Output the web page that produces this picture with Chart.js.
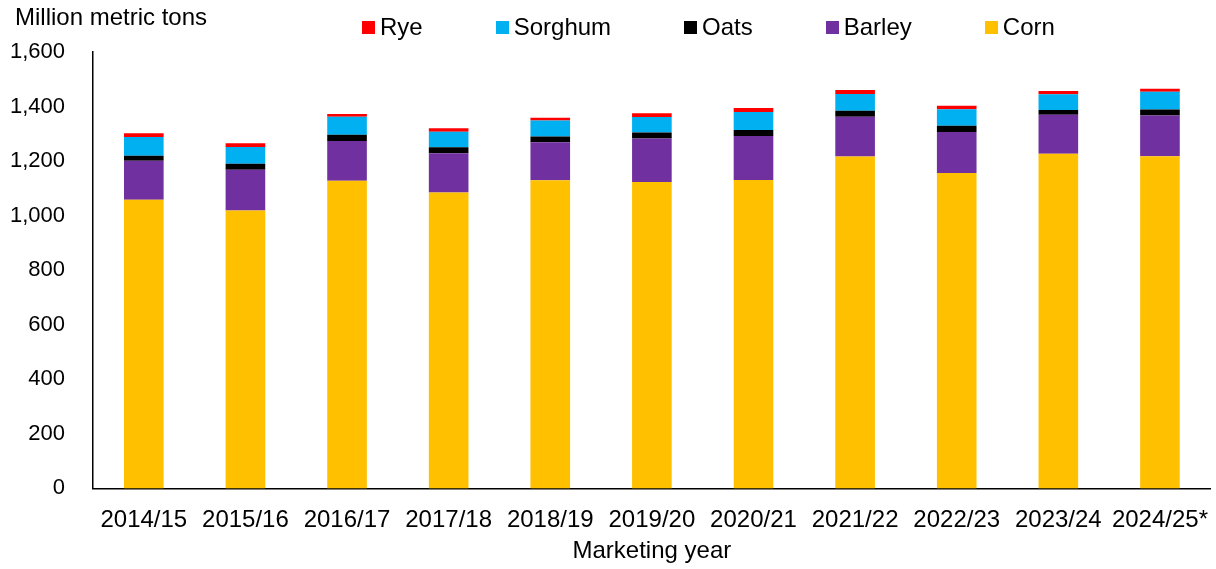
<!doctype html>
<html>
<head>
<meta charset="utf-8" />
<title>Grain production</title>
<script src="https://cdn.jsdelivr.net/npm/chart.js@4.4.1/dist/chart.umd.min.js"></script>
<style>
  body { margin: 0; background: #fff; font-family: "Liberation Sans", Arial, sans-serif; }
  #wrap { position: relative; width: 1216px; height: 569px; }
  #unit { position: absolute; left: 15px; top: 5px; font-size: 24px; line-height: 24px; color: #000; }
  #legend { position: absolute; left: 362px; top: 15px; display: flex; gap: 73px; font-size: 24px; line-height: 24px; color: #000; }
  #legend .item { display: flex; align-items: center; }
  #legend .box { width: 13px; height: 13px; margin-right: 5px; }
</style>
</head>
<body>
<div id="wrap">
  <canvas id="grainChart"></canvas>
  <div id="unit">Million metric tons</div>
  <div id="legend"></div>
</div>
<script>
  // values, million metric tons
  var years = ['2014/15', '2015/16', '2016/17', '2017/18', '2018/19', '2019/20', '2020/21', '2021/22', '2022/23', '2023/24', '2024/25*'];
  var corn = [1058, 1019, 1128, 1085, 1130, 1123, 1131, 1217, 1156, 1227, 1218];
  var barley = [143, 149, 146, 144, 139, 160, 161, 146, 151, 143, 149];
  var oats = [19, 22, 23, 22, 21, 22, 22, 22, 23, 17, 22];
  var sorghum = [68, 62, 66, 57, 59, 57, 66, 61, 60, 58, 65];
  var rye = [14, 13, 10, 12, 10, 13, 15, 15, 13, 12, 11];

  var series = [
    { label: 'Corn', data: corn, color: '#FFC000' },
    { label: 'Barley', data: barley, color: '#7030A0' },
    { label: 'Oats', data: oats, color: '#000000' },
    { label: 'Sorghum', data: sorghum, color: '#00B0F0' },
    { label: 'Rye', data: rye, color: '#FF0000' }
  ];

  Chart.defaults.font.family = '"Liberation Sans", Arial, sans-serif';
  Chart.defaults.color = '#000';

  var chart = new Chart(document.getElementById('grainChart'), {
    type: 'bar',
    data: {
      labels: years,
      datasets: series.map(function (s) {
        return {
          label: s.label, data: s.data, backgroundColor: s.color,
          borderWidth: 0, categoryPercentage: 1, barPercentage: 0.39
        };
      })
    },
    options: {
      responsive: true,
      maintainAspectRatio: false,
      animation: false,
      layout: { padding: { top: 52, left: 0, right: 0, bottom: 3 } },
      plugins: {
        legend: { display: false },
        tooltip: { enabled: false }
      },
      scales: {
        x: {
          stacked: true,
          // hidden tick marks still push the labels down without widening the side padding
          grid: { display: false, drawTicks: true, tickLength: 10 },
          border: { display: true, color: '#000', width: 1.5 },
          ticks: { font: { size: 24 }, padding: 8, maxRotation: 0, autoSkip: false },
          title: { display: true, text: 'Marketing year', font: { size: 24 }, padding: { top: -6, bottom: 0 } }
        },
        y: {
          stacked: true,
          min: 0,
          max: 1600,
          grid: { display: false, drawTicks: false },
          border: { display: true, color: '#000', width: 1.5 },
          ticks: { stepSize: 200, font: { size: 22 }, padding: 28 },
          afterFit: function (scale) { scale.width = 93; }
        }
      }
    }
  });

  // legend in the reference order (top of stack first)
  var legend = document.getElementById('legend');
  series.slice().reverse().forEach(function (s) {
    var item = document.createElement('div');
    item.className = 'item';
    var box = document.createElement('span');
    box.className = 'box';
    box.style.background = s.color;
    var txt = document.createElement('span');
    txt.textContent = s.label;
    item.appendChild(box);
    item.appendChild(txt);
    legend.appendChild(item);
  });
</script>
</body>
</html>
